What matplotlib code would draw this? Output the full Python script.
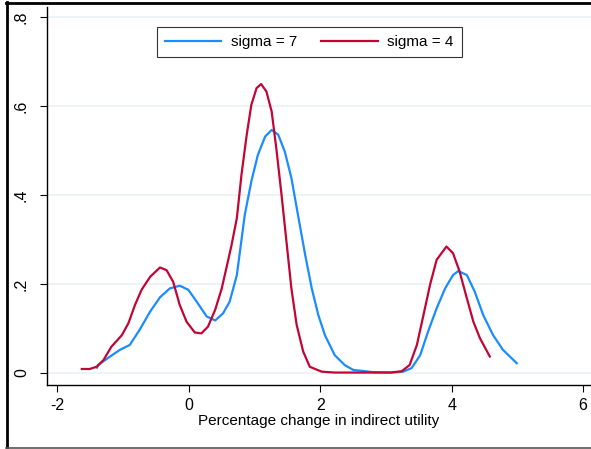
import matplotlib
matplotlib.use("Agg")
import matplotlib.pyplot as plt
from matplotlib.lines import Line2D

plt.rcParams['font.family'] = ['Liberation Sans', 'DejaVu Sans']

# kernel density, sigma = 7
x_s7 = [-1.40, -1.38, -1.20, -1.05, -0.90, -0.75, -0.59, -0.44, -0.29, -0.14,
        -0.01, 0.12, 0.27, 0.40, 0.52, 0.62, 0.73,
        0.85, 0.95, 1.05, 1.16, 1.26, 1.36, 1.46, 1.56, 1.66, 1.77, 1.87, 1.97,
        2.07, 2.22, 2.37, 2.50, 2.80, 3.10,
        3.26, 3.39, 3.52, 3.64, 3.77, 3.90, 4.02, 4.10, 4.23, 4.35, 4.48, 4.63,
        4.78, 4.99]
y_s7 = [0.012, 0.018, 0.037, 0.052, 0.063, 0.097, 0.138, 0.170, 0.190, 0.196,
        0.187, 0.160, 0.127, 0.118, 0.134, 0.160, 0.220,
        0.355, 0.430, 0.490, 0.531, 0.546, 0.535, 0.497, 0.438, 0.355, 0.265, 0.190, 0.130,
        0.085, 0.040, 0.018, 0.007, 0.002, 0.001,
        0.003, 0.011, 0.040, 0.093, 0.145, 0.190, 0.220, 0.229, 0.220, 0.183, 0.130, 0.085,
        0.052, 0.022]

# kernel density, sigma = 4
x_s4 = [-1.63, -1.51, -1.405, -1.30, -1.18, -1.02, -0.92, -0.82, -0.72, -0.59,
        -0.44, -0.34, -0.24, -0.14, -0.035, 0.09, 0.19, 0.29, 0.40, 0.50,
        0.60, 0.65, 0.73, 0.80, 0.88, 0.95, 1.03, 1.10, 1.18, 1.26, 1.33, 1.41,
        1.49, 1.56, 1.64, 1.74, 1.84, 2.02, 2.22, 2.60, 3.06,
        3.24, 3.36, 3.47, 3.57, 3.67, 3.77, 3.92, 4.02, 4.12, 4.23, 4.33, 4.43,
        4.58]
y_s4 = [0.009, 0.009, 0.014, 0.029, 0.059, 0.085, 0.112, 0.153, 0.187, 0.216,
        0.237, 0.231, 0.205, 0.153, 0.115, 0.091, 0.089, 0.104, 0.142, 0.190,
        0.255, 0.288, 0.348, 0.445, 0.535, 0.602, 0.640, 0.649, 0.632, 0.587, 0.505, 0.400,
        0.288, 0.190, 0.108, 0.048, 0.014, 0.003, 0.001, 0.001, 0.001,
        0.004, 0.018, 0.063, 0.130, 0.198, 0.254, 0.284, 0.269, 0.228, 0.168, 0.115, 0.078,
        0.037]

xticks = [-2, 0, 2, 4, 6]
yticks = [0, 0.2, 0.4, 0.6, 0.8]
ytick_labels = ['0', '.2', '.4', '.6', '.8']

blue = '#1a8cff'
red = '#c10534'

fig = plt.figure(figsize=(5.91, 4.49), dpi=100)
ax = fig.add_axes([0.0795, 0.1425, 0.9205, 0.8419])

for yv in yticks:
    ax.axhline(yv, color='#eaf2f3', lw=1.2, zorder=0)

ax.plot(x_s7, y_s7, color=blue, lw=1.6, label='sigma = 7', solid_joinstyle='round')
ax.plot(x_s4, y_s4, color=red, lw=1.6, label='sigma = 4', solid_joinstyle='round')

ax.set_xlim(-2.16, 6.12)
ax.set_ylim(-0.027, 0.822)
ax.set_xticks(xticks)
ax.set_xticklabels([str(t) for t in xticks])
ax.set_yticks(yticks)
ax.set_yticklabels(ytick_labels, rotation=90, va='center')
ax.tick_params(axis='both', labelsize=11.5, length=5, width=0.8, direction='out')
ax.tick_params(axis='x', pad=4)
ax.tick_params(axis='y', pad=8)
for s in ['top', 'right']:
    ax.spines[s].set_visible(False)
for s in ['left', 'bottom']:
    ax.spines[s].set_linewidth(1.0)

ax.set_xlabel('Percentage change in indirect utility', fontsize=11, labelpad=1)

leg = ax.legend(loc='upper center', bbox_to_anchor=(0.482, 0.948), ncol=2, fontsize=11,
                frameon=True, fancybox=False, edgecolor='black', handlelength=3.7,
                handletextpad=0.6, columnspacing=1.6, borderpad=0.55, borderaxespad=0)
leg.get_frame().set_linewidth(0.8)

# outer frame
fig.add_artist(Line2D([6.5/591, 6.5/591], [0, 1 - 2/449], color='black', lw=2, transform=fig.transFigure))
fig.add_artist(Line2D([6/591, 1], [1 - 3/449, 1 - 3/449], color='black', lw=2, transform=fig.transFigure))
fig.add_artist(Line2D([6/591, 1], [1.5/449, 1.5/449], color='#555555', lw=1.2, transform=fig.transFigure))

fig.savefig('out.png', dpi=100)
